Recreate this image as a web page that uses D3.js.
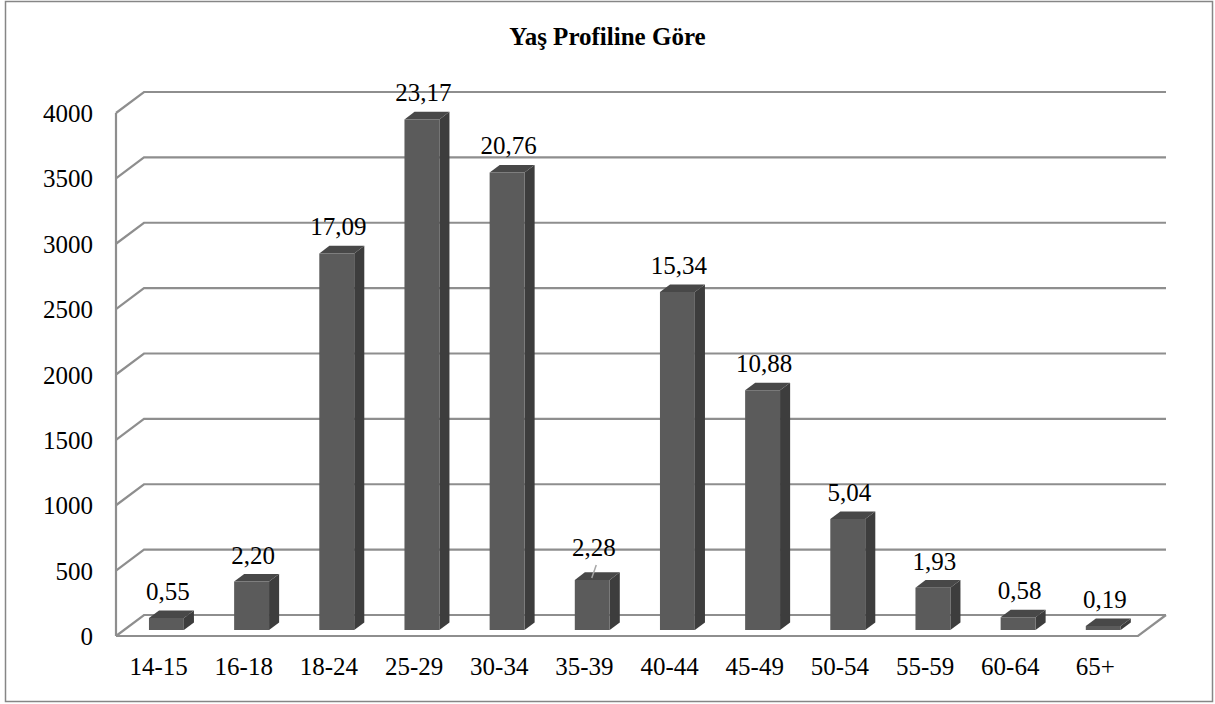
<!DOCTYPE html>
<html>
<head>
<meta charset="utf-8">
<script src="https://cdn.jsdelivr.net/npm/d3@7"></script>
<style>
body { margin: 0; background: #fff; }
</style>
</head>
<body>
<div id="chart"></div>
<script>
(function() {

var title = "Yaş Profiline Göre";
var categories = ["14-15","16-18","18-24","25-29","30-34","35-39","40-44","45-49","50-54","55-59","60-64","65+"];
var counts = [93, 371, 2881, 3906, 3500, 384, 2586, 1834, 850, 325, 98, 32];
var percentLabels = ["0,55","2,20","17,09","23,17","20,76","2,28","15,34","10,88","5,04","1,93","0,58","0,19"];
var yTicks = [0, 500, 1000, 1500, 2000, 2500, 3000, 3500, 4000];

var width = 1215, height = 704;
var font = "'Liberation Serif', 'Times New Roman', Times, serif";

// front floor corner and 3d depth vector
var left = 116, right = 1138, floorY = 636;
var DX = 28, DY = -21;
var f1 = 0.28, f2 = 0.64;   // bar depth, as share of the floor depth

var gridColor = "#8e8e8e";

var svg = d3.select("#chart")
    .append("svg")
    .attr("width", width)
    .attr("height", height)
    .attr("font-family", font)
    .style("font-family", font);

// outer border
svg.append("rect")
    .attr("x", 5.5)
    .attr("y", 1.5)
    .attr("width", 1207)
    .attr("height", 700)
    .attr("fill", "none")
    .attr("stroke", "#868686")
    .attr("stroke-width", 1.5);

svg.append("text")
    .attr("x", width / 2)
    .attr("y", 45)
    .attr("text-anchor", "middle")
    .style("font-family", font)
    .style("font-size", "25px")
    .style("font-weight", "bold")
    .text(title);

var x = d3.scaleBand()
    .domain(categories)
    .range([left, right]);

var h = d3.scaleLinear()
    .domain([0, 4000])
    .range([0, 523]);

// projection of (x on front, value, depth share) to screen
function px(xf, f) { return xf + DX * f; }
function py(v, f) { return floorY + DY * f - h(v); }

var grid = svg.append("g").attr("class", "grid");

// back wall gridlines with their left wall diagonals
yTicks.forEach(function(t) {
    grid.append("path")
        .attr("d", d3.line()([[left, py(t, 0)], [px(left, 1), py(t, 1)], [px(right, 1), py(t, 1)]]))
        .attr("fill", "none")
        .attr("stroke", gridColor)
        .attr("stroke-width", 2.2);
});

// left wall front edge
grid.append("line")
    .attr("x1", left).attr("x2", left)
    .attr("y1", py(d3.max(yTicks), 0))
    .attr("y2", py(0, 0))
    .attr("stroke", gridColor)
    .attr("stroke-width", 2.2);

// floor front and right edges
grid.append("path")
    .attr("d", d3.line()([[left, py(0, 0)], [right, py(0, 0)], [px(right, 1), py(0, 1)]]))
    .attr("fill", "none")
    .attr("stroke", gridColor)
    .attr("stroke-width", 2.2);

// y labels
svg.append("g")
    .selectAll("text")
    .data(yTicks)
    .join("text")
    .attr("x", 93)
    .attr("y", function(d) { return py(d, 0) + 9; })
    .attr("text-anchor", "end")
    .style("font-family", font)
    .style("font-size", "25px")
    .text(function(d) { return d; });

// x labels
svg.append("g")
    .selectAll("text")
    .data(categories)
    .join("text")
    .attr("x", function(d) { return x(d) + x.bandwidth() / 2; })
    .attr("y", 675)
    .attr("text-anchor", "middle")
    .style("font-family", font)
    .style("font-size", "25px")
    .text(function(d) { return d; });

// bars
var barW = x.bandwidth() * 0.41;
var bars = categories.map(function(c, i) {
    var xl = x(c) + x.bandwidth() / 2 - barW / 2;
    return {cat: c, value: counts[i], label: percentLabels[i], xl: xl, xr: xl + barW};
});

var barG = svg.append("g").attr("class", "bars");

bars.forEach(function(b) {
    var g = barG.append("g");
    var fl = [px(b.xl, f1), py(b.value, f1)],
        fr = [px(b.xr, f1), py(b.value, f1)],
        br = [px(b.xr, f2), py(b.value, f2)],
        bl = [px(b.xl, f2), py(b.value, f2)],
        frb = [px(b.xr, f1), py(0, f1)],
        brb = [px(b.xr, f2), py(0, f2)],
        flb = [px(b.xl, f1), py(0, f1)];

    // side
    g.append("path")
        .attr("d", "M" + [fr, br, brb, frb].join("L") + "Z")
        .attr("fill", "#3d3d3d");
    // top
    g.append("path")
        .attr("d", "M" + [fl, fr, br, bl].join("L") + "Z")
        .attr("fill", "#484848");
    // front
    g.append("path")
        .attr("d", "M" + [fl, fr, frb, flb].join("L") + "Z")
        .attr("fill", "#5b5b5b");
});

// data labels, the 35-39 one was dragged up and has a leader line
var movedLabel = "35-39";

barG.selectAll(".label")
    .data(bars)
    .join("text")
    .attr("class", "label")
    .attr("x", function(d) { return px((d.xl + d.xr) / 2, f1) + 1.5; })
    .attr("y", function(d) {
        return py(d.value, f1) - (d.cat == movedLabel ? 24 : 18);
    })
    .attr("text-anchor", "middle")
    .style("font-family", font)
    .style("font-size", "25px")
    .text(function(d) { return d.label; });

var mb = bars.filter(function(d) { return d.cat == movedLabel; })[0];
var mx = px((mb.xl + mb.xr) / 2, f1);
var my = py(mb.value, f1);
barG.append("line")
    .attr("x1", mx + 4).attr("y1", my - 15)
    .attr("x2", mx - 0.5).attr("y2", my - 2)
    .attr("stroke", "#a6a6a6")
    .attr("stroke-width", 1.5);

})();
</script>
</body>
</html>
